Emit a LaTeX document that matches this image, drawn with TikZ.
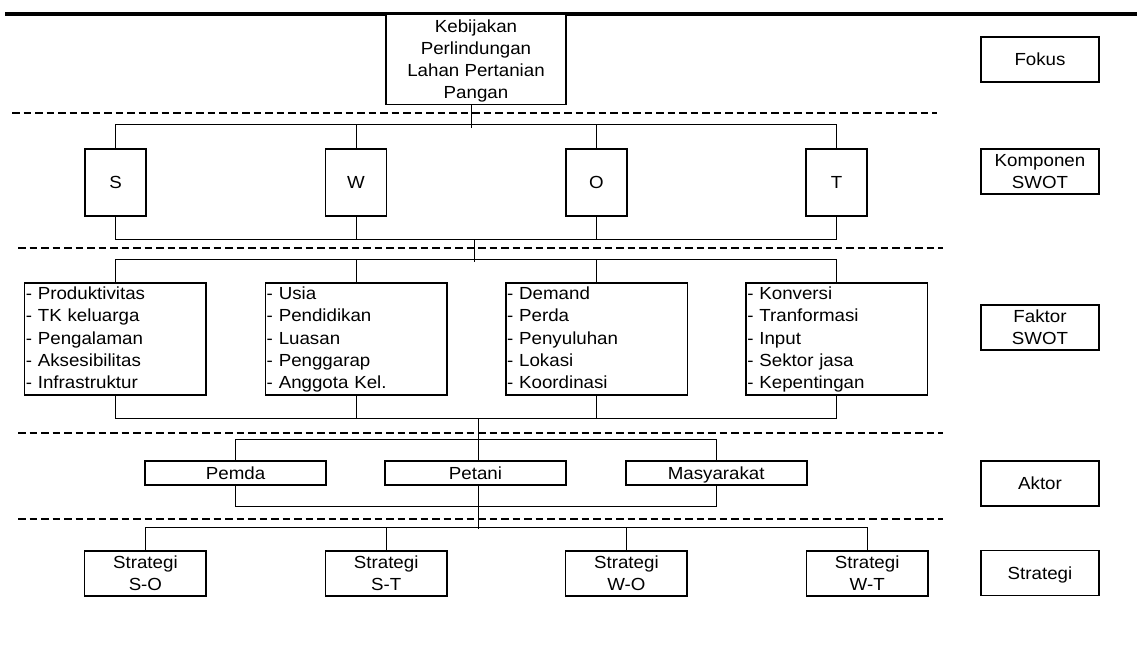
\documentclass[tikz,border=0pt]{standalone}
\usepackage{fontspec}
\setmainfont{Liberation Sans}[FakeStretch=1.07]
\newcommand\lblfont{\fontsize{17.5}{22}\selectfont}
\newcommand\factfont{\fontsize{17.5}{22.3}\selectfont}
\begin{document}
\begin{tikzpicture}[x=1pt,y=-1pt,
  box/.style={draw,line width=1.6pt,fill=white,inner sep=0pt,align=center,font=\lblfont,text height=12.6pt,text depth=0pt},
  twoline/.style={text height=34.6pt,text depth=0pt},
  factbox/.style={box,font=\factfont,align=left,text width=179pt,inner xsep=1.2pt,minimum height=112pt,text height=15pt,text depth=94.2pt},
  swotbox/.style={box,minimum width=61pt,minimum height=67pt},
  labbox/.style={box,minimum width=118pt,minimum height=45pt},
  actbox/.style={box,minimum width=181pt,minimum height=24.5pt},
  stratbox/.style={box,twoline,minimum width=121.5pt,minimum height=45pt},
  conn/.style={line width=1pt},
  sep/.style={line width=1.8pt,dash pattern=on 7.5pt off 4pt},
]
\useasboundingbox (0,0) rectangle (1137,664);

% separators
\draw[line width=4pt] (5,14) -- (1137,14);
\draw[sep] (12,113) -- (937,113);
\draw[sep] (18,248) -- (943,248);
\draw[sep] (18,432.7) -- (943,432.7);
\draw[sep] (18,519) -- (943,519);

% level coordinates
\coordinate (y1) at (0,124.5);
\coordinate (y2) at (0,239.5);
\coordinate (y3) at (0,259.5);
\coordinate (y4) at (0,418.3);
\coordinate (y5) at (0,439.5);
\coordinate (y6) at (0,506);
\coordinate (y7) at (0,527.3);
\coordinate (c1) at (471.7,127.5);
\coordinate (c2a) at (474.5,239.5);
\coordinate (c2b) at (474.5,262);
\coordinate (c4a) at (478.3,418.3);
\coordinate (c4b) at (478.3,528.5);

% focus
\node[box,text height=78.6pt,text depth=0pt,minimum width=180pt,minimum height=90pt] (top) at (476,59.3)
  {Kebijakan\\Perlindungan\\Lahan Pertanian\\Pangan};

% SWOT
\node[swotbox] (S) at (115.5,182.5) {S};
\node[swotbox] (W) at (356,182.5) {W};
\node[swotbox] (O) at (596.3,182.5) {O};
\node[swotbox] (T) at (836.7,182.5) {T};

% factors
\node[factbox] (F1) at (115.3,339) {- Produktivitas\\- TK keluarga\\- Pengalaman\\- Aksesibilitas\\- Infrastruktur};
\node[factbox] (F2) at (356.2,339) {- Usia\\- Pendidikan\\- Luasan\\- Penggarap\\- Anggota Kel.};
\node[factbox] (F3) at (596.6,339) {- Demand\\- Perda\\- Penyuluhan\\- Lokasi\\- Koordinasi};
\node[factbox] (F4) at (836.8,339) {- Konversi\\- Tranformasi\\- Input\\- Sektor jasa\\- Kepentingan};

% actors
\node[actbox] (Pemda) at (235.6,473) {Pemda};
\node[actbox] (Petani) at (475.5,473) {Petani};
\node[actbox] (Masy) at (716.2,473) {Masyarakat};

% strategies
\node[stratbox] (SO) at (145.4,573.2) {Strategi\\S-O};
\node[stratbox] (ST) at (386.2,573.2) {Strategi\\S-T};
\node[stratbox] (WO) at (626.4,573.2) {Strategi\\W-O};
\node[stratbox] (WT) at (867.2,573.2) {Strategi\\W-T};

% right labels
\node[labbox] (Lfokus) at (1040,59.5) {Fokus};
\node[labbox,twoline] (Lkomp) at (1040,171.5) {Komponen\\SWOT};
\node[labbox,twoline] (Lfaktor) at (1040,327.5) {Faktor\\SWOT};
\node[labbox] (Laktor) at (1040,483.2) {Aktor};
\node[labbox] (Lstrat) at (1040,573) {Strategi};

% connectors
\draw[conn] (top.south -| c1) -- (c1);
\draw[conn] (S.north) -- (S.north |- y1) -- (T.north |- y1) -- (T.north);
\draw[conn] (W.north) -- (W.north |- y1);
\draw[conn] (O.north) -- (O.north |- y1);

\draw[conn] (S.south) -- (S.south |- y2) -- (T.south |- y2) -- (T.south);
\draw[conn] (W.south) -- (W.south |- y2);
\draw[conn] (O.south) -- (O.south |- y2);
\draw[conn] (c2a) -- (c2b);

\draw[conn] (F1.north) -- (F1.north |- y3) -- (F4.north |- y3) -- (F4.north);
\draw[conn] (F2.north) -- (F2.north |- y3);
\draw[conn] (F3.north) -- (F3.north |- y3);

\draw[conn] (F1.south) -- (F1.south |- y4) -- (F4.south |- y4) -- (F4.south);
\draw[conn] (F2.south) -- (F2.south |- y4);
\draw[conn] (F3.south) -- (F3.south |- y4);

\draw[conn] (c4a) -- (Petani.north -| c4a);
\draw[conn] (Petani.south -| c4a) -- (c4b);

\draw[conn] (Pemda.north) -- (Pemda.north |- y5) -- (Masy.north |- y5) -- (Masy.north);
\draw[conn] (Pemda.south) -- (Pemda.south |- y6) -- (Masy.south |- y6) -- (Masy.south);

\draw[conn] (SO.north) -- (SO.north |- y7) -- (WT.north |- y7) -- (WT.north);
\draw[conn] (ST.north) -- (ST.north |- y7);
\draw[conn] (WO.north) -- (WO.north |- y7);
\end{tikzpicture}
\end{document}
